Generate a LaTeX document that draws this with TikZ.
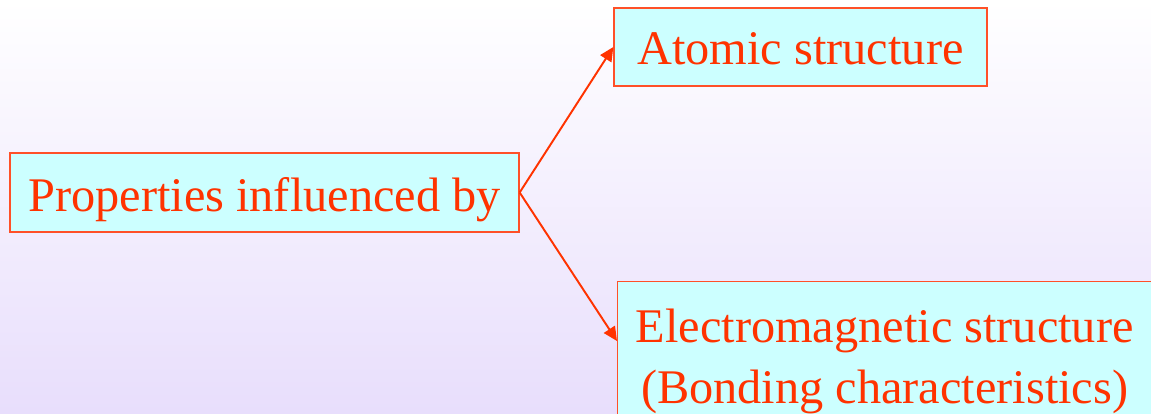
\documentclass[tikz,border=0pt]{standalone}
\usepackage{fontspec}
\setmainfont{Liberation Serif}
\usetikzlibrary{positioning,arrows.meta}
\definecolor{cTxt}{RGB}{255,51,0}
\definecolor{cEdge}{RGB}{255,80,40}
\definecolor{cBox}{RGB}{204,255,255}
\definecolor{cBgTop}{RGB}{255,255,255}
\definecolor{cBgBot}{RGB}{232,222,252}

\begin{document}
\begin{tikzpicture}[
  x=0.02cm, y=-0.02cm,
  font=\fontsize{27.5}{34.5}\selectfont,
  box/.style  = {draw=cEdge, line width=0.8pt, fill=cBox, text=cTxt,
                 align=center, inner sep=0pt},
  flow/.style = {-{Triangle[length=2.8mm, width=2.6mm]}, draw=cTxt, line width=1.1pt}
]

% -------------------------------------------------------------- sfondo --
\shade[top color=cBgTop, bottom color=cBgBot] (0,0) rectangle (1151,413);
\useasboundingbox (0,0) rectangle (1151,413);

% -------------------------------------------------------------- nodi --
\node[box, minimum width=10.18cm, minimum height=1.58cm, text height=0.9cm, text depth=0.16cm]
  (props) at (264.5,192.5) {Properties influenced by};
\node[box, minimum width=7.46cm, minimum height=1.56cm, text height=0.84cm, text depth=0.16cm]
  (atom)  at (800.5,47) {Atomic structure};
\node[box, minimum width=10.68cm, minimum height=3.2cm, anchor=north west]
  (elec)  at (617,281) {Electromagnetic structure\\(Bonding characteristics)};
\coordinate (etip) at (617,341);

% -------------------------------------------------------------- archi --
\draw[flow] (props.east) -- (atom.west);
\draw[flow] (props.east) -- (etip);

\end{tikzpicture}
\end{document}
